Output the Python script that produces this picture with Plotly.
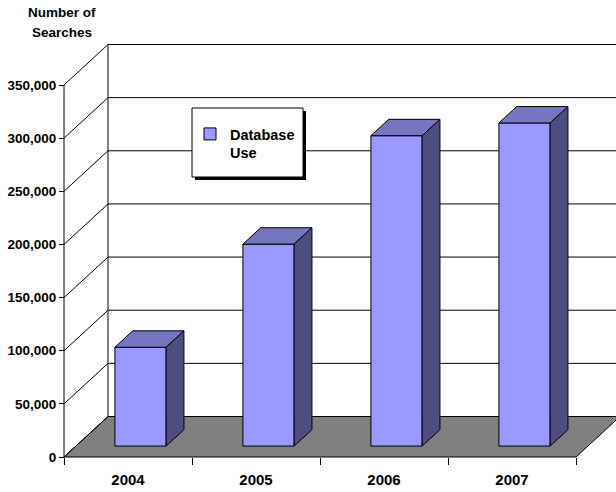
import plotly.graph_objects as go

# ---------------- data ----------------
years = ["2004", "2005", "2006", "2007"]
searches = [93000, 190000, 292000, 304000]
y_ticks = [0, 50000, 100000, 150000, 200000, 250000, 300000, 350000]
series_name = "Database<br>Use"
title_lines = ["Number of", "Searches"]

# ---------------- geometry / style ----------------
W, H = 616, 492
X0_PX, CAT_PX = 64, 128          # pixel of category boundary 0, pixels per category
Y0_PX = 457                      # pixel of value 0 (front plane)
UNIT_PER_PX = 350000 / 372
L, R, T, B_PX = 58, 0, 36, 462   # plot area edges (px)
xmin = -(X0_PX - L) / CAT_PX
xmax = (W - R - X0_PX) / CAT_PX
ymin = -(B_PX - Y0_PX) * UNIT_PER_PX
ymax = (Y0_PX - T) * UNIT_PER_PX
DX = 44 / CAT_PX                 # depth offset in category units
DY = 40.5 * UNIT_PER_PX          # depth offset in value units
D0, D1 = 0.27, 0.675             # bar depth span (fraction of wall depth)
CX, BW = 0.505, 0.4              # bar centre / width inside category

FRONT = "#9999FF"
TOP = "#7575C0"
SIDE = "#4D4D80"
FLOOR = "#808080"
FONT = "Arial, Liberation Sans, sans-serif"

n = len(years)
top_v = y_ticks[-1]

def xp(px):
    return (px - L) / (W - L - R)

def yp(py):
    return (B_PX - py) / (B_PX - T)

shapes = []
# floor
shapes.append(dict(type="path", xref="x", yref="y", layer="below",
                   path=f"M0,0 L{n},0 L{n + DX},{DY} L{DX},{DY} Z",
                   fillcolor=FLOOR, line=dict(color="black", width=1)))
# back wall gridlines and side wall diagonals
for v in y_ticks:
    shapes.append(dict(type="line", xref="x", yref="y", layer="below",
                       x0=DX, y0=v + DY, x1=n + DX, y1=v + DY,
                       line=dict(color="black", width=1)))
    shapes.append(dict(type="line", xref="x", yref="y", layer="below",
                       x0=0, y0=v, x1=DX, y1=v + DY,
                       line=dict(color="black", width=1)))
# wall verticals and front value axis
for xv in (DX, n + DX):
    shapes.append(dict(type="line", xref="x", yref="y", layer="below",
                       x0=xv, y0=DY, x1=xv, y1=top_v + DY,
                       line=dict(color="black", width=1)))
shapes.append(dict(type="line", xref="x", yref="y", layer="below",
                   x0=0, y0=0, x1=0, y1=top_v,
                   line=dict(color="black", width=1)))
# legend box with shadow
shapes.append(dict(type="rect", xref="paper", yref="paper", layer="above",
                   x0=xp(195), y0=yp(180), x1=xp(306), y1=yp(111),
                   fillcolor="black", line=dict(width=0)))
shapes.append(dict(type="rect", xref="paper", yref="paper", layer="above",
                   x0=xp(192), y0=yp(177), x1=xp(303), y1=yp(108),
                   fillcolor="white", line=dict(color="black", width=1)))

fig = go.Figure()

# front faces
fig.add_trace(go.Bar(
    x=[i + CX + D0 * DX for i in range(n)],
    y=searches,
    base=[D0 * DY] * n,
    width=BW,
    marker=dict(color=FRONT, line=dict(color="black", width=1)),
    name=series_name,
    hovertext=years,
))

# top and side faces
for i, v in enumerate(searches):
    xl = i + CX - BW / 2
    xr = i + CX + BW / 2
    fig.add_trace(go.Scatter(
        x=[xl + D0 * DX, xr + D0 * DX, xr + D1 * DX, xl + D1 * DX, xl + D0 * DX],
        y=[v + D0 * DY, v + D0 * DY, v + D1 * DY, v + D1 * DY, v + D0 * DY],
        fill="toself", fillcolor=TOP, mode="lines",
        line=dict(color="black", width=1), showlegend=False, hoverinfo="skip"))
    fig.add_trace(go.Scatter(
        x=[xr + D0 * DX, xr + D0 * DX, xr + D1 * DX, xr + D1 * DX, xr + D0 * DX],
        y=[D0 * DY, v + D0 * DY, v + D1 * DY, D1 * DY, D0 * DY],
        fill="toself", fillcolor=SIDE, mode="lines",
        line=dict(color="black", width=1), showlegend=False, hoverinfo="skip"))

title_font = dict(family=FONT, size=13.5, weight="bold", color="black")
annotations = [
    dict(text=title_lines[0], xref="paper", yref="paper", x=xp(62), y=yp(12),
         xanchor="center", yanchor="middle", showarrow=False, font=title_font),
    dict(text=title_lines[1], xref="paper", yref="paper", x=xp(62), y=yp(32),
         xanchor="center", yanchor="middle", showarrow=False, font=title_font),
]

fig.update_layout(
    width=W, height=H,
    margin=dict(l=L, r=R, t=T, b=H - B_PX, autoexpand=False),
    paper_bgcolor="white", plot_bgcolor="white",
    font=dict(family=FONT, color="black"),
    shapes=shapes,
    annotations=annotations,
    showlegend=True,
    legend=dict(x=xp(190), y=yp(118), xanchor="left", yanchor="top",
                bgcolor="rgba(0,0,0,0)", borderwidth=0, valign="top",
                font=dict(family=FONT, size=14.5, weight="bold", color="black")),
    xaxis=dict(range=[xmin, xmax], tickmode="array",
               tickvals=[i + 0.5 for i in range(n)], ticktext=years,
               ticks="outside", ticklen=9, tickcolor="rgba(0,0,0,0)",
               minor=dict(tickmode="array", tickvals=list(range(n + 1)),
                          ticks="outside", ticklen=7, tickcolor="black", tickwidth=1),
               showgrid=False, zeroline=False, showline=False,
               anchor="free", position=(0 - ymin) / (ymax - ymin),
               tickfont=dict(family=FONT, size=15, weight="bold", color="black")),
    yaxis=dict(range=[ymin, ymax], tickmode="array", tickvals=y_ticks,
               tickformat=",", ticks="outside", ticklen=5, tickcolor="black",
               showgrid=False, zeroline=False, showline=False,
               anchor="free", position=(0 - xmin) / (xmax - xmin),
               tickfont=dict(family=FONT, size=13.5, weight="bold", color="black")),
)

fig.write_html("out.html")
